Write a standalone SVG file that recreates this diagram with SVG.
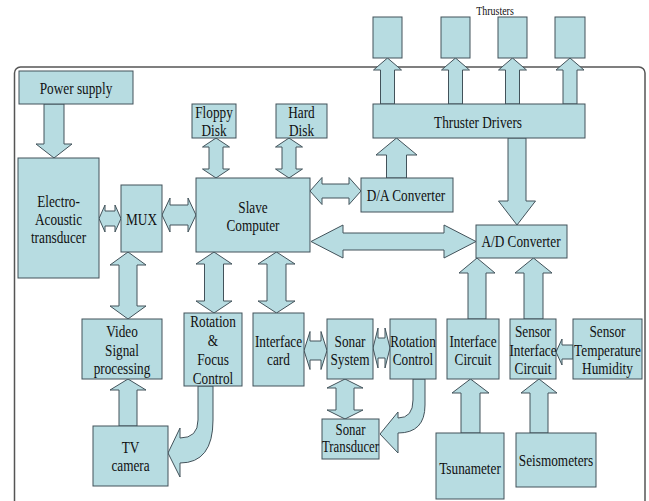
<svg xmlns="http://www.w3.org/2000/svg" width="649" height="501" viewBox="0 0 649 501">
<style>
.b{fill:#B7DCE1;stroke:#42525a;stroke-width:1}
.a{fill:#B7DCE1;stroke:#42525a;stroke-width:1;stroke-linejoin:miter}
.t{font-family:"Liberation Serif","DejaVu Serif","Noto Serif",serif;font-size:17px;fill:#111;text-anchor:middle}
.s{font-family:"Liberation Serif","DejaVu Serif","Noto Serif",serif;font-size:12px;fill:#111;text-anchor:middle}
.f{fill:none;stroke:#555;stroke-width:1.5}
</style>
<rect width="649" height="501" fill="#fff"/>
<rect class="f" x="14.5" y="67" width="630.5" height="470" rx="6"/>

<g id="connectors">
<polygon class="a" points="44,104 64,104 64,144 72,144 54,158 36,144 44,144"/>
<polygon class="a" points="99,218.5 105,205 105,211 115,211 115,205 121,218.5 115,232 115,226 105,226 105,232"/>
<polygon class="a" points="162,215 170,198 170,205 188,205 188,198 196,215 188,232 188,225 170,225 170,232"/>
<polygon class="a" points="216,138 229.5,147 223,147 223,169 229.5,169 216,178 202.5,169 209,169 209,147 202.5,147"/>
<polygon class="a" points="289,138 302.5,147 296,147 296,169 302.5,169 289,178 275.5,169 282,169 282,147 275.5,147"/>
<polygon class="a" points="310,191 322,177.5 322,184 349,184 349,177.5 361,191 349,204.5 349,198 322,198 322,204.5"/>
<polygon class="a" points="311,241.5 343,225 343,233 444,233 444,225 476,241.5 444,258 444,250 343,250 343,258"/>
<polygon class="a" points="386.5,178 386.5,155 376,155 396.5,138 417,155 406.5,155 406.5,178"/>
<polygon class="a" points="508,138 526,138 526,201 535.5,201 517,225 498.5,201 508,201"/>
<polygon class="a" points="380.5,104 380.5,70 373.5,70 387.5,58 401.5,70 394.5,70 394.5,104"/>
<polygon class="a" points="448.5,104 448.5,70 441.5,70 455.5,58 469.5,70 462.5,70 462.5,104"/>
<polygon class="a" points="505.5,104 505.5,70 498.5,70 512.5,58 526.5,70 519.5,70 519.5,104"/>
<polygon class="a" points="563,104 563,70 556,70 570,58 584,70 577,70 577,104"/>
<polygon class="a" points="128,252 146,265 137,265 137,306 146,306 128,319 110,306 119,306 119,265 110,265"/>
<polygon class="a" points="214,252 232,264 223.5,264 223.5,301 232,301 214,313 196,301 204.5,301 204.5,264 196,264"/>
<polygon class="a" points="276.5,252 295,264 286,264 286,301 295,301 276.5,313 258,301 267,301 267,264 258,264"/>
<polygon class="a" points="119,426 119,390 110,390 128,379 146,390 137,390 137,426"/>
<polygon class="a" points="304,350.5 310,331.5 310,341 321,341 321,331.5 327,350.5 321,369.5 321,360 310,360 310,369.5"/>
<polygon class="a" points="373,348 378,328 378,338 385,338 385,328 390,348 385,368 385,358 378,358 378,368"/>
<polygon class="a" points="345,379 363,388 354,388 354,410 363,410 345,419 327,410 336,410 336,388 327,388"/>
<polygon class="a" points="468,319 468,273 459,273 477,258 495,273 486,273 486,319"/>
<polygon class="a" points="524,319 524,273 515,273 533.5,258 552,273 543,273 543,319"/>
<polygon class="a" points="461,433 461,393 452,393 470.5,379 489,393 480,393 480,433"/>
<polygon class="a" points="530,433 530,393 521,393 539,379 557,393 548,393 548,433"/>
<polygon class="a" points="573,345 562,345 562,339 556,352 562,365 562,359 573,359"/>
<path class="a" d="M198,386 H213 V420 Q213,463 180,463 V477 L168,453 L180,428 V438 Q198,438 198,420 Z"/>
<path class="a" d="M413,379 H425 V405 Q425,433 398,433 V453 L380,434 L398,412 V418 Q413,418 413,400 Z"/>
</g>

<g id="power"><rect class="b" x="19" y="71" width="114" height="33"/><text class="t" transform="translate(76,94) scale(0.78,1)">Power supply</text></g>
<g id="electro"><rect class="b" x="18" y="158" width="81" height="120"/>
<text class="t" transform="translate(58.5,207) scale(0.78,1)">Electro-</text>
<text class="t" transform="translate(58.5,225) scale(0.78,1)">Acoustic</text>
<text class="t" transform="translate(58.5,243) scale(0.78,1)">transducer</text></g>
<g id="mux"><rect class="b" x="121" y="185" width="41" height="67"/><text class="t" transform="translate(141.5,225) scale(0.78,1)">MUX</text></g>
<g id="slave"><rect class="b" x="196" y="178" width="114" height="74"/>
<text class="t" transform="translate(253,213) scale(0.78,1)">Slave</text>
<text class="t" transform="translate(253,231) scale(0.78,1)">Computer</text></g>
<g id="floppy"><rect class="b" x="192" y="104" width="44" height="34"/>
<text class="t" transform="translate(214,118) scale(0.78,1)">Floppy</text>
<text class="t" transform="translate(214,136) scale(0.78,1)">Disk</text></g>
<g id="hard"><rect class="b" x="276" y="104" width="51" height="34"/>
<text class="t" transform="translate(301.5,118) scale(0.78,1)">Hard</text>
<text class="t" transform="translate(301.5,136) scale(0.78,1)">Disk</text></g>
<g id="da"><rect class="b" x="361" y="178" width="92" height="34"/><text class="t" transform="translate(406,201) scale(0.78,1)">D/A Converter</text></g>
<g id="ad"><rect class="b" x="476" y="225" width="91" height="33"/><text class="t" transform="translate(521,247) scale(0.78,1)">A/D Converter</text></g>
<g id="drivers"><rect class="b" x="373" y="104" width="212" height="34"/><text class="t" transform="translate(478,128) scale(0.78,1)">Thruster Drivers</text></g>
<g id="thrusters">
<rect class="b" x="373" y="17" width="29" height="41"/>
<rect class="b" x="441" y="17" width="29" height="41"/>
<rect class="b" x="498" y="17" width="29" height="41"/>
<rect class="b" x="555" y="17" width="30" height="41"/>
<text class="s" transform="translate(495,15) scale(0.83,1)">Thrusters</text></g>
<g id="video"><rect class="b" x="82" y="319" width="80" height="60"/>
<text class="t" transform="translate(122,337) scale(0.78,1)">Video</text>
<text class="t" transform="translate(122,355.5) scale(0.78,1)">Signal</text>
<text class="t" transform="translate(122,374) scale(0.78,1)">processing</text></g>
<g id="rotfocus"><rect class="b" x="184" y="313" width="58" height="73"/>
<text class="t" transform="translate(213,327) scale(0.78,1)">Rotation</text>
<text class="t" transform="translate(213,346) scale(0.78,1)">&amp;</text>
<text class="t" transform="translate(213,365) scale(0.78,1)">Focus</text>
<text class="t" transform="translate(213,384) scale(0.78,1)">Control</text></g>
<g id="icard"><rect class="b" x="253" y="313" width="51" height="73"/>
<text class="t" transform="translate(278.5,347) scale(0.78,1)">Interface</text>
<text class="t" transform="translate(278.5,365) scale(0.78,1)">card</text></g>
<g id="sonar"><rect class="b" x="327" y="319" width="46" height="60"/>
<text class="t" transform="translate(350,347) scale(0.78,1)">Sonar</text>
<text class="t" transform="translate(350,365) scale(0.78,1)">System</text></g>
<g id="rotctrl"><rect class="b" x="390" y="319" width="46" height="60"/>
<text class="t" transform="translate(413,347) scale(0.78,1)">Rotation</text>
<text class="t" transform="translate(413,365) scale(0.78,1)">Control</text></g>
<g id="sonartrans"><rect class="b" x="322" y="419" width="57" height="40"/>
<text class="t" style="font-size:16px" transform="translate(350.5,435) scale(0.8,1)">Sonar</text>
<text class="t" style="font-size:16px" transform="translate(350.5,452) scale(0.8,1)">Transducer</text></g>
<g id="tv"><rect class="b" x="93" y="426" width="75" height="60"/>
<text class="t" transform="translate(130.5,453) scale(0.78,1)">TV</text>
<text class="t" transform="translate(130.5,471) scale(0.78,1)">camera</text></g>
<g id="icircuit"><rect class="b" x="447" y="319" width="52" height="60"/>
<text class="t" transform="translate(473,347) scale(0.78,1)">Interface</text>
<text class="t" transform="translate(473,365) scale(0.78,1)">Circuit</text></g>
<g id="sic"><rect class="b" x="510" y="319" width="46" height="60"/>
<text class="t" transform="translate(533,337) scale(0.78,1)">Sensor</text>
<text class="t" transform="translate(533,356) scale(0.78,1)">Interface</text>
<text class="t" transform="translate(533,374) scale(0.78,1)">Circuit</text></g>
<g id="sth"><rect class="b" x="573" y="319" width="69" height="60"/>
<text class="t" transform="translate(607.5,337) scale(0.78,1)">Sensor</text>
<text class="t" transform="translate(607.5,356) scale(0.78,1)">Temperature</text>
<text class="t" transform="translate(607.5,374) scale(0.78,1)">Humidity</text></g>
<g id="tsunameter"><rect class="b" x="436" y="433" width="68" height="66"/><text class="t" transform="translate(470,474) scale(0.78,1)">Tsunameter</text></g>
<g id="seismometers"><rect class="b" x="516" y="433" width="80" height="54"/><text class="t" transform="translate(556,466) scale(0.78,1)">Seismometers</text></g>
</svg>
